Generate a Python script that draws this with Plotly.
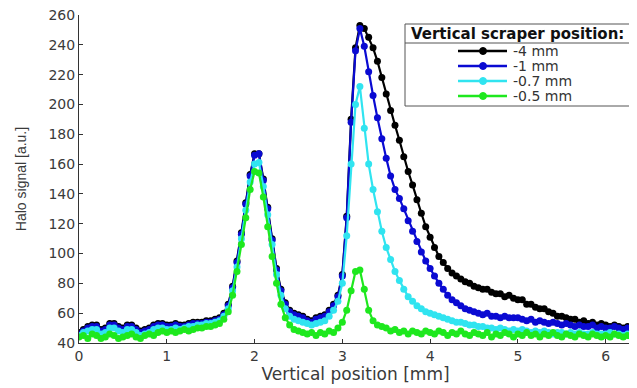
import numpy as np
import plotly.graph_objects as go

# x grid: 0.00 .. 6.30 mm in 0.05 mm steps (127 points)
x_mm = np.round(np.arange(127) * 0.05, 2)

sig_4mm = [
    47, 49, 51, 52, 52, 49, 50, 53, 53, 51,
    50, 52, 52, 50, 48, 49, 50, 52, 53, 53,
    52, 52, 53, 52, 52, 53, 54, 54, 54, 55,
    55, 56, 57, 60, 66, 78, 95, 114, 134, 153,
    167, 167, 150, 131, 110, 90, 76, 67, 62, 60,
    59, 58, 56, 55, 57, 58, 59, 62, 66, 72,
    86, 125, 190, 238, 253, 251, 245, 238, 229, 218,
    207, 196, 186, 176, 165, 155, 146, 136, 127, 118,
    111, 104, 98, 94, 90, 87, 85, 83, 81, 80,
    78, 77, 76, 76, 74, 73, 73, 71, 72, 70,
    69, 69, 66, 66, 64, 63, 63, 61, 60, 58,
    58, 57, 56, 56, 54, 55, 53, 54, 52, 53,
    52, 51, 52, 51, 50, 51, 50,
]
sig_1mm = [
    46, 48, 50, 51, 51, 48, 49, 52, 52, 50,
    49, 51, 51, 49, 47, 48, 49, 51, 52, 52,
    51, 51, 52, 51, 51, 52, 53, 53, 53, 54,
    54, 55, 56, 59, 65, 77, 94, 113, 133, 152,
    166, 167, 149, 130, 109, 89, 75, 66, 61, 59,
    58, 57, 55, 54, 56, 57, 58, 61, 65, 71,
    85, 124, 188, 236, 251, 239, 222, 206, 191, 177,
    164, 152, 143, 137, 130, 122, 115, 108, 101, 95,
    90, 85, 80, 76, 72, 69, 67, 65, 63, 62,
    61, 60, 59, 60, 58, 58, 57, 58, 57, 57,
    57, 56, 55, 56, 54, 55, 54, 53, 54, 53,
    52, 53, 52, 51, 52, 51, 51, 52, 50, 51,
    50, 50, 51, 50, 49, 50, 49,
]
sig_07mm = [
    45, 47, 48, 49, 49, 46, 47, 50, 50, 48,
    47, 49, 49, 47, 45, 46, 47, 49, 50, 50,
    49, 49, 50, 49, 50, 51, 51, 52, 52, 53,
    53, 54, 55, 58, 63, 75, 91, 110, 129, 148,
    160, 161, 145, 126, 106, 86, 72, 63, 58, 56,
    55, 54, 53, 52, 53, 54, 55, 58, 62, 68,
    80, 112, 160, 200, 212, 184, 160, 143, 128, 115,
    104, 96, 88, 82, 76, 71, 68, 65, 63, 61,
    60, 59, 58, 57, 56, 55, 54, 54, 53, 52,
    52, 51, 51, 50, 50, 49, 50, 49, 48, 49,
    48, 49, 48, 47, 48, 47, 48, 47, 46, 47,
    47, 46, 47, 46, 47, 46, 46, 47, 46, 46,
    46, 47, 46, 46, 45, 46, 46,
]
sig_05mm = [
    44, 45, 43, 46, 45, 43, 44, 46, 45, 43,
    44, 45, 46, 44, 43, 45, 46, 45, 47, 48,
    47, 48, 47, 48, 49, 48, 49, 50, 50, 51,
    51, 52, 53, 56, 61, 72, 88, 106, 124, 143,
    155, 154, 138, 118, 98, 80, 66, 57, 52, 49,
    48, 47, 46, 47, 45, 47, 46, 48, 47, 50,
    54, 62, 75, 88, 89, 76, 62, 55, 52, 51,
    50, 48, 49, 47, 48, 46, 48, 47, 46, 48,
    47, 46, 48, 47, 45, 47, 46, 48, 46, 45,
    47, 46, 45, 47, 44, 46, 45, 47, 46, 44,
    46, 45, 47, 45, 46, 44, 46, 45, 47, 45,
    44, 46, 45, 44, 46, 45, 44, 46, 45, 44,
    45, 44, 46, 45, 44, 45, 45,
]

series_names = ["-4 mm", "-1 mm", "-0.7 mm", "-0.5 mm"]
series_values = [sig_4mm, sig_1mm, sig_07mm, sig_05mm]
series_colors = ["#000000", "#0a0ad2", "#30e4f0", "#1ee81e"]
legend_title = "Vertical scraper position:"

x_ticks = [0, 1, 2, 3, 4, 5, 6]
y_ticks = [40, 60, 80, 100, 120, 140, 160, 180, 200, 220, 240, 260]

fig = go.Figure()
for name, vals, col in zip(series_names, series_values, series_colors):
    fig.add_trace(go.Scatter(
        x=x_mm, y=vals, name=name, mode="lines+markers",
        line=dict(color=col, width=2.2),
        marker=dict(color=col, size=7),
        showlegend=False,
    ))

# page body has an 8px margin; compensate so plot area sits at x 79..632, y 15..343
PL, PR, PT, PB = 79, 632, 15, 343
PW, PH = PR - PL, PB - PT

def px(xp):
    return (xp - PL) / PW

def py(yp):
    return (PB - yp) / PH

axis_font = dict(family="DejaVu Sans", size=14, color="#3a3a3a")
fig.update_layout(
    width=629, height=380,
    margin=dict(l=71, r=5, t=7, b=45, autoexpand=False),
    paper_bgcolor="white", plot_bgcolor="white",
    xaxis=dict(
        range=[0, 6.3], tickvals=x_ticks, ticks="inside", ticklen=4,
        tickcolor="#333333", showline=True, linecolor="#333333", linewidth=1,
        mirror=False, showgrid=False, zeroline=False, tickfont=axis_font,
        ticklabeloverflow="allow",
        title=dict(text="Vertical position [mm]", standoff=3,
                   font=dict(family="DejaVu Sans", size=17, color="#3a3a3a")),
    ),
    yaxis=dict(
        range=[40, 260], tickvals=y_ticks, ticks="inside", ticklen=4,
        tickcolor="#333333", showline=True, linecolor="#333333", linewidth=1,
        mirror=False, showgrid=False, zeroline=False, tickfont=axis_font,
        ticklabeloverflow="allow",
        title=dict(text="Halo signal [a.u.]", standoff=18,
                   font=dict(family="Liberation Sans", size=14, color="#3a3a3a")),
    ),
)

# MATLAB-style legend box with title and separator
fig.add_shape(type="rect", xref="paper", yref="paper",
              x0=px(405), x1=px(631), y0=py(106), y1=py(24),
              line=dict(color="#555555", width=1), fillcolor="white", layer="above")
fig.add_shape(type="line", xref="paper", yref="paper",
              x0=px(405), x1=px(631), y0=py(43), y1=py(43),
              line=dict(color="#555555", width=1), layer="above")
fig.add_annotation(text="<b>" + legend_title + "</b>", xref="paper", yref="paper",
                   x=px(518), y=py(34), showarrow=False,
                   xanchor="center", yanchor="middle",
                   font=dict(family="DejaVu Sans", size=15, color="#111111"))

row_y = [51, 66, 81, 96]
for name, col, ry in zip(series_names, series_colors, row_y):
    fig.add_shape(type="line", xref="paper", yref="paper",
                  x0=px(458), x1=px(507), y0=py(ry), y1=py(ry),
                  line=dict(color=col, width=2.5), layer="above")
    fig.add_shape(type="circle", xref="paper", yref="paper",
                  x0=px(479.5), x1=px(486.5), y0=py(ry + 3.5), y1=py(ry - 3.5),
                  line=dict(color=col, width=1), fillcolor=col, layer="above")
    fig.add_annotation(text=name, xref="paper", yref="paper",
                       x=px(511), y=py(ry), showarrow=False,
                       xanchor="left", yanchor="middle",
                       font=dict(family="DejaVu Sans", size=14, color="#333333"))

fig.write_html("out.html")
